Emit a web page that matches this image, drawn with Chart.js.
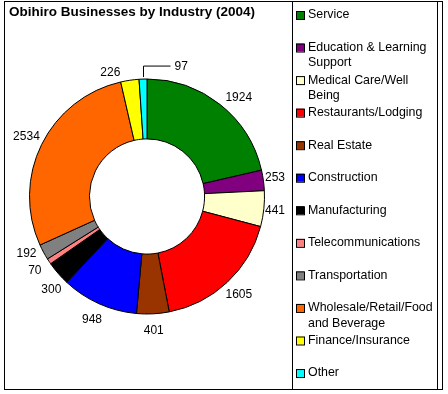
<!DOCTYPE html>
<html>
<head>
<meta charset="utf-8">
<script src="https://cdn.jsdelivr.net/npm/chart.js@4"></script>
<style>
  body { margin: 0; background: #fff; }
  #wrap { position: relative; width: 448px; height: 394px; }
</style>
</head>
<body>
<div id="wrap"><canvas id="myChart" width="448" height="394"></canvas></div>
<script>
const chartTitle = 'Obihiro Businesses by Industry (2004)';
const categories = [
    'Service',
    'Education & Learning Support',
    'Medical Care/Well Being',
    'Restaurants/Lodging',
    'Real Estate',
    'Construction',
    'Manufacturing',
    'Telecommunications',
    'Transportation',
    'Wholesale/Retail/Food and Beverage',
    'Finance/Insurance',
    'Other'
];
// legend text split the way the original wraps it
const legendLines = [
    ['Service'],
    ['Education & Learning', 'Support'],
    ['Medical Care/Well', 'Being'],
    ['Restaurants/Lodging'],
    ['Real Estate'],
    ['Construction'],
    ['Manufacturing'],
    ['Telecommunications'],
    ['Transportation'],
    ['Wholesale/Retail/Food', 'and Beverage'],
    ['Finance/Insurance'],
    ['Other']
];
const businesses = [1924, 253, 441, 1605, 401, 948, 300, 70, 192, 2534, 226, 97];
const sliceColors = ['#008000', '#800080', '#FFFFCC', '#FF0000', '#993300', '#0000FF',
    '#000000', '#FF8080', '#808080', '#FF6600', '#FFFF00', '#00FFFF'];

const FONT = '12px "Liberation Sans", Arial, sans-serif';

// frame, title, legend and outside value labels
const excelLook = {
    id: 'excelLook',
    afterDraw(chart) {
        const ctx = chart.ctx;
        ctx.save();
        ctx.strokeStyle = '#000';
        ctx.lineWidth = 1;
        ctx.strokeRect(4.5, 1.5, 438, 388);
        ctx.beginPath();
        ctx.moveTo(292.5, 1.5); ctx.lineTo(292.5, 389.5);
        ctx.moveTo(437.5, 1.5); ctx.lineTo(437.5, 389.5);
        ctx.stroke();

        ctx.fillStyle = '#000';
        ctx.font = 'bold 13.5px "Liberation Sans", Arial, sans-serif';
        ctx.textBaseline = 'middle';
        ctx.textAlign = 'left';
        ctx.fillText(chartTitle, 9, 12);

        // legend
        ctx.font = '12.4px "Liberation Sans", Arial, sans-serif';
        legendLines.forEach((lines, i) => {
            const y = 15 + i * 32.55;
            ctx.fillStyle = sliceColors[i];
            ctx.fillRect(296, y - 4, 8, 8);
            ctx.strokeRect(296.5, y - 3.5, 8, 8);
            ctx.fillStyle = '#000';
            lines.forEach((t, k) => ctx.fillText(t, 308, y + k * 15.5));
        });

        // value labels
        ctx.font = FONT;
        const meta = chart.getDatasetMeta(0);
        const nudge = { 0: [8, 6], 6: [6, 5], 8: [-2, -6], 10: [-17, 9] };
        meta.data.forEach((arc, i) => {
            const p = arc.getProps(['x', 'y', 'startAngle', 'endAngle', 'outerRadius'], true);
            const mid = (p.startAngle + p.endAngle) / 2;
            const text = String(businesses[i]);
            const w = ctx.measureText(text).width;
            ctx.textAlign = 'center';
            if (i === businesses.length - 1) {
                // tiny slice: leader line up and to the right
                const ex = p.x + Math.cos(mid) * p.outerRadius;
                const ey = p.y + Math.sin(mid) * p.outerRadius;
                const bx = Math.round(ex) + 0.5;
                ctx.beginPath();
                ctx.moveTo(bx, ey - 2);
                ctx.lineTo(bx, ey - 13);
                ctx.lineTo(bx + 27, ey - 13);
                ctx.stroke();
                ctx.textAlign = 'left';
                ctx.fillText(text, bx + 31, ey - 12);
                return;
            }
            let x = p.x + Math.cos(mid) * (p.outerRadius + 17);
            let y = p.y + Math.sin(mid) * (p.outerRadius + 17);
            x = Math.min(x, 285 - w / 2);
            if (nudge[i]) { x += nudge[i][0]; y += nudge[i][1]; }
            ctx.fillText(text, x, y);
        });
        ctx.restore();
    }
};

let ctx = document.getElementById('myChart');
Chart.defaults.font.family = '"Liberation Sans", Arial, sans-serif';
new Chart(ctx, {
    type: 'doughnut',
    data: {
        labels: categories,
        datasets: [{
            data: businesses,
            backgroundColor: sliceColors,
            borderColor: '#000',
            borderWidth: 1
        }]
    },
    options: {
        responsive: false,
        animation: false,
        cutout: '49%',
        layout: { padding: { left: 29, right: 183, top: 78, bottom: 79 } },
        plugins: {
            legend: { display: false },
            title: { display: false },
            tooltip: { enabled: false }
        }
    },
    plugins: [excelLook]
});
</script>
</body>
</html>
